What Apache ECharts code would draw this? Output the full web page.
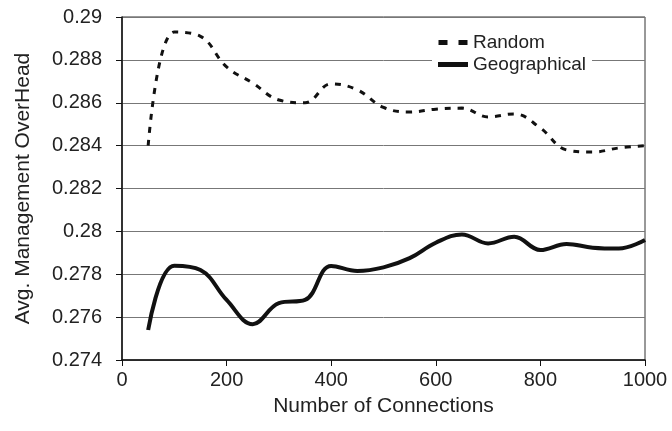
<!DOCTYPE html>
<html>
<head>
<meta charset="utf-8">
<script src="https://cdn.jsdelivr.net/npm/echarts@6/dist/echarts.min.js"></script>
<style>
  html, body { margin: 0; padding: 0; background: #fff; }
  #chart { width: 672px; height: 431px; }
</style>
</head>
<body>
<div id="chart"></div>
<script>
// 连接数 (x)
var connections = [50, 100, 150, 200, 250, 300, 350, 400, 450, 500, 550, 600, 650, 700, 750, 800, 850, 900, 950, 1000];
// Random
var randomVals = [0.2840, 0.2893, 0.2891, 0.28767, 0.28692, 0.28613, 0.2860, 0.28688, 0.2866, 0.28578,
                  0.28557, 0.2857, 0.28575, 0.28534, 0.28548, 0.28482, 0.2838, 0.2837, 0.28389, 0.2840];
// Geographical
var geoVals = [0.2754, 0.2784, 0.2782, 0.2768, 0.27567, 0.27665, 0.2768, 0.27839, 0.27815, 0.27832,
               0.27875, 0.27947, 0.27986, 0.27944, 0.27975, 0.27913, 0.27941, 0.27924, 0.2792, 0.2796];

function pairs(xs, ys) {
  var out = [];
  for (var i = 0; i < xs.length; i++) out.push([xs[i], ys[i]]);
  return out;
}

var chart = echarts.init(document.getElementById('chart'));
var fontFamily = '"Liberation Sans", Arial, sans-serif';

var option = {
  animation: false,
  textStyle: { fontFamily: fontFamily },
  grid: {
    left: 122,
    right: 27,
    top: 17,
    bottom: 71,
    show: true,
    borderColor: '#333',
    borderWidth: 1
  },
  legend: {
    orient: 'vertical',
    left: 432,
    top: 31,
    itemWidth: 30,
    itemHeight: 5,
    itemGap: 3,
    padding: [2, 6, 2, 6],
    backgroundColor: '#fff',
    textStyle: { fontSize: 19, color: '#222', fontFamily: fontFamily },
    data: [
      { name: 'Random', icon: 'path://M0,0h9v5h-9z M20,0h9v5h-9z' },
      { name: 'Geographical', icon: 'path://M0,0h30v5h-30z' }
    ]
  },
  xAxis: {
    type: 'value',
    min: 0,
    max: 1000,
    interval: 200,
    name: 'Number of Connections',
    nameLocation: 'middle',
    nameGap: 36,
    nameTextStyle: { fontSize: 21, color: '#222' },
    axisLine: { show: true, lineStyle: { color: '#111', width: 1.5 } },
    axisTick: { show: true, inside: false, length: 6, lineStyle: { color: '#111' } },
    axisLabel: {
      fontSize: 20, color: '#222', margin: 10,
      formatter: function (v) { return String(v); }
    },
    splitLine: { show: false }
  },
  yAxis: {
    type: 'value',
    min: 0.274,
    max: 0.29,
    interval: 0.002,
    name: 'Avg. Management OverHead',
    nameLocation: 'middle',
    nameGap: 88,
    nameTextStyle: { fontSize: 21, color: '#222' },
    axisLine: { show: true, lineStyle: { color: '#111', width: 1.5 } },
    axisTick: { show: true, inside: false, length: 6, lineStyle: { color: '#111' } },
    axisLabel: {
      fontSize: 20, color: '#222', margin: 20,
      formatter: function (v) { return String(parseFloat(v.toFixed(3))); }
    },
    splitLine: { show: true, lineStyle: { color: '#777', width: 1 } }
  },
  series: [
    {
      name: 'Random',
      type: 'line',
      data: pairs(connections, randomVals),
      smooth: 0.4,
      showSymbol: false,
      symbol: 'none',
      lineStyle: { color: '#111', width: 3, type: [6, 7] },
      itemStyle: { color: '#111' }
    },
    {
      name: 'Geographical',
      type: 'line',
      data: pairs(connections, geoVals),
      smooth: 0.4,
      showSymbol: false,
      symbol: 'none',
      lineStyle: { color: '#111', width: 4 },
      itemStyle: { color: '#111' }
    }
  ]
};

chart.setOption(option);
</script>
</body>
</html>
